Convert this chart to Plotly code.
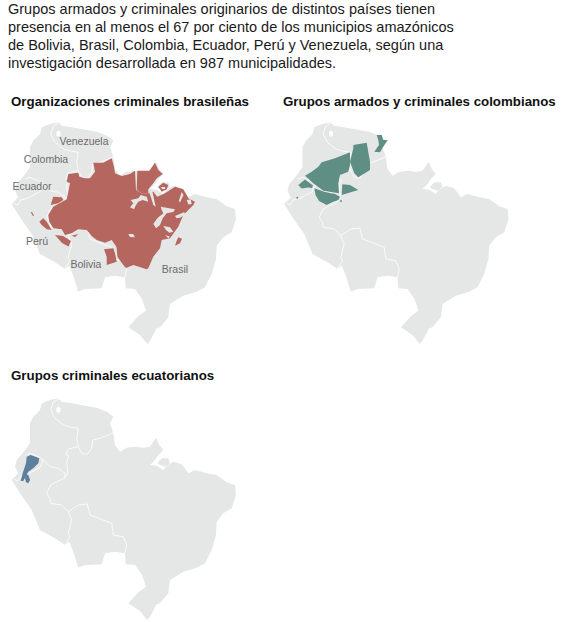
import plotly.graph_objects as go

W, H = 562, 622
GRAY, RED, GREEN, BLUE = "#E5E6E6", "#B5675F", "#5F8F84", "#5D7F9E"

intro = ["Grupos armados y criminales originarios de distintos países tienen",
         "presencia en al menos el 67 por ciento de los municipios amazónicos",
         "de Bolivia, Brasil, Colombia, Ecuador, Perú y Venezuela, según una",
         "investigación desarrollada en 987 municipalidades."]
titles = ["Organizaciones criminales brasileñas", "Grupos armados y criminales colombianos",
          "Grupos criminales ecuatorianos"]

coast = [(58.3,3.3),(61.7,6.7),(71.7,8.3),(83.3,10),(96.7,12.7),(106.7,16.7),(113.3,21.7),(110,28.3),(113.3,38.3),
 (115,50),(120,56.7),(126.7,52.7),(135,51.7),(143.3,52.7),(150,51.7),(156,42.7),(159.3,50),(163.3,55),(158.3,60),
 (155,65),(150,70),(156.7,70.7),(163.3,75),(166.7,70.7),(173.3,66.7),(181.7,69.3),(188.3,78.3),(195,75),(206.7,78.3),
 (216.7,80),(226.7,87.3),(235,90),(236,100),(231.7,113.3),(223.3,118.3),(216.7,126.7),(216,140),(211.7,155),(205,168.3),
 (196.7,172.7),(183.3,176.7),(170,185),(168.3,198.3),(160,208.3),(156.7,209.3),(150,221.7),(147.3,225),(140,216),
 (128.3,208.3),(138.3,197.3),(146,191.7),(141.7,179.3),(135,170),(125.7,169.3),(125,158.3),(115,156.7),(105,158.3),
 (101.7,169.3),(93.3,170),(85,170),(78.3,172.7),(73.3,156.7),(69.3,146.7),(65,150),(55,143.3),(40,135),(31.7,115),
 (20,98.3),(11.7,85),(16,80),(18.3,78.3),(15,71.7),(16.7,65),(22.7,58.3),(30,48.3),(30,28.3),(33.3,21.7),(40,15),
 (41.7,8.3),(50,5),(58.3,3.3)]
marajo = [(157.3,68.3),(161.7,63.3),(168.3,63.3),(170,68.3),(165,71.7),(160,70)]
lake = [(56.5,13),(58.3,11.5),(60.5,13),(60.5,16.5),(58.3,18),(56.5,16.5)]

border_col_ven = [(59.3,3.3),(53.3,7.3),(50.7,15),(55,23.3),(63.3,30),(71.7,32.3),(78.3,33.3),(76.7,43.3),(78.3,51.7)]
border_ven_bra = [(78.3,51.7),(81.7,58.3),(87.3,59.3),(91.7,53.3),(92.7,45),(100,43.3),(113,38)]
border_col_bra = [(78.3,51.7),(68.3,54),(65.7,59.3),(69,60.7),(66.7,66.7),(67.7,78.3),(65,82.7)]
border_col_ecu = [(25,60),(30,58.3),(38.3,61.7),(43.3,65),(50,71.7),(58.3,73.3),(65,78.3),(65,82.7)]
border_ecu_per = [(43.3,65),(39.8,72.7),(27.5,79.3),(20.8,81),(17.5,86),(14.2,84.3)]
border_per_bra = [(65,82.7),(55,87.3),(50.7,90),(46.7,98.3),(50,103.3),(50.7,108.3),(61.7,110),(68.3,116.7)]
border_per_bol = [(68.3,116.7),(71.7,125),(68.3,138.3),(70,142),(65,150)]
border_bol_bra = [(68.3,116.7),(78.3,110),(87.3,109),(90,120),(111.7,128.3),(113.3,140),(123.3,141.7),(126.7,150),(125,158.3)]
borders = [border_col_ven, border_ven_bra, border_col_bra, border_col_ecu, border_ecu_per,
           border_per_bra, border_per_bol, border_bol_bra]

br_main = [(68.3,55),(78.3,53.7),(79.3,57.7),(85,59.3),(90,59.3),(95,52.7),(93.3,43.7),(103.3,43.7),(111.7,39.3),(114,47.7),
 (115,54.3),(121.7,57),(130,55),(135,51.7),(136,71),(141.7,74.3),(148.3,74.3),(153.3,72.7),(157.3,77.7),(165,74.3),(175,67.7),
 (183.3,70.3),(186.7,76),(188.3,79.3),(195,82.7),(193.3,86),(188.3,91),(183.3,96),(178.3,107.7),(170,119.3),(161.7,121),
 (160,129.3),(153.3,137.7),(148.3,149.3),(146.7,150.3),(133.3,146),(126,149),(123.3,146),(117.5,138),(116.5,128),(111.7,121),
 (105,123.7),(96.7,121),(91.7,117),(86.7,111),(78.3,110.3),(71.7,114.3),(65,116),(61.7,110.3),(53.3,109.3),(49.3,102.7),
 (48.3,96),(53.3,87.7),(60,84.3),(66.7,80.3),(68.3,72.7),(70,64.3),(66.7,62.7),(68.3,55)]
br_amapa = [(137.3,51.7),(149.3,51.7),(155,43.7),(158.3,51),(162.7,55),(156.7,59.3),(153.3,64.3),(148.3,70.3),(148.3,74.3),
 (141.7,74.3),(136.7,71),(137.3,51.7)]
br_marajo = [(158.3,67.7),(163.3,63.7),(168.3,66),(166.7,70.3),(161.7,72.7),(158.3,67.7)]
br_loreto = [(50.7,86),(53.3,77.7),(61.7,78.3),(63.3,81),(58.3,84.3),(50.7,86)]
br_san_martin = [(39.3,102.7),(43.3,99.3),(46.7,102.7),(51.7,111),(46.7,110.3),(41.7,106),(39.3,102.7)]
br_tiny = [(30.7,93.3),(32,93),(34,96.5),(33,97),(30.7,93.3)]
br_ucayali = [(55,116),(63,117),(71,122),(68.5,127.5),(62,124),(55,116)]
br_madre = [(71.7,116.7),(78.3,115),(75,118),(71.7,116.7)]
br_pando = [(104,130.3),(113.3,129.3),(115,134.3),(116.7,142.7),(106.7,146),(106.7,137.7),(104,130.3)]
br_maranhao = [(178.3,118.3),(182,119.7),(180,124.3),(175,126.7),(176.7,121.7),(178.3,118.3)]
red_shapes = [br_main, br_amapa, br_marajo, br_loreto, br_san_martin, br_tiny, br_ucayali, br_madre, br_pando, br_maranhao]

gap_a = [(130.7,81),(138.3,79.3),(140.7,76),(146.7,77.7),(148.3,82.7),(142.7,81),(138.3,82.7),(136,86),(134,90.3),(130,88.3),(133.3,84.3)]
gap_b = [(148.3,71),(152.5,73),(155.7,87.7),(153.3,86),(151.2,79)]
gap_c = [(160.7,87.7),(175,90.3),(173.3,93),(166.7,94.3),(162.7,99.3),(160,106),(156,109.3),(153.3,105),(157.3,99.3),(163.3,94.3),(161.7,91)]
gap_d = [(163.3,107),(170,108.3),(173.3,112.7),(169.3,113.7),(166,111)]
gap_e = [(175,97),(184,93.3),(186,95.3),(180,98.7),(176.7,99.3)]
gap_f = [(181.7,73),(178.8,82),(180,83.5),(183.5,76)]
gap_g = [(186.7,81),(190.7,80.3),(191.7,85),(188.3,85.5)]
gap_h = [(165,116),(170,117.7),(168.3,119.3)]
gap_i = [(128.3,115),(133,115),(135,118.3),(130,118)]
gap_j = [(161,68),(165,68),(165,70),(162,70)]
gaps = [gap_a, gap_b, gap_c, gap_d, gap_e, gap_f, gap_g, gap_h, gap_i, gap_j]

co_main = [(45.8,47.7),(49.2,43.3),(62.5,39.3),(77.5,33.3),(77.5,46),(75.8,52.7),(67.5,56),(65.8,64.3),(66.5,74.3),(62.5,73.7),
 (50.8,71.7),(40.8,64.3),(33.2,57.5),(32.5,56.7),(39.2,52.7),(45.8,47.7)]
co_ecuador = [(25.8,66),(32.5,60.5),(40.5,66.5),(39.5,69),(35.8,68.5),(29.2,69.5),(25.8,66)]
co_peru = [(41.8,69.3),(52.5,72.9),(62.5,75),(67.5,77.7),(66,81),(60,83),(54.2,86),(46.5,82),(43,76),(41.8,69.3)]
co_brasil = [(69.8,65.3),(77.5,66),(85.8,71),(75.8,74.3),(69.2,76),(69.8,65.3)]
co_dot_a = [(67.3,82),(68.5,80.8),(69.7,82),(68.5,83.2),(67.3,82)]
co_dot_b = [(23.6,78.7),(24.8,77.5),(26,78.7),(24.8,79.9),(23.6,78.7)]
co_venezuela = [(80.8,26),(94.2,23.7),(97.5,42.7),(97.5,51),(85.8,58.3),(81.8,54.3),(77.5,42.7),(80.8,29.3),(80.8,26)]
co_guyana = [(104.2,16),(109.2,16),(110.8,21),(115.2,21),(110.8,27.7),(107.5,33.3),(101.8,32.7),(106.5,26),(105.8,21),(104.2,16)]
green_shapes = [co_main, co_ecuador, co_peru, co_brasil, co_dot_a, co_dot_b, co_venezuela, co_guyana]

ec_north = [(26.7,61.7),(30.7,60),(39.3,63.3),(38.3,68.3),(33.3,73.3),(28.3,76.7),(23.3,86),(20.7,86),(22.7,78.3),(26,68.3),(26.7,61.7)]
ec_south = [(26,79.3),(28.3,80),(30,85),(28.3,88.3),(26,87.3),(25,83.3),(26,79.3)]
blue_shapes = [ec_north, ec_south]

label_names = ["Venezuela", "Colombia", "Ecuador", "Perú", "Bolivia", "Brasil"]
label_x = [84, 46, 32, 37, 86, 175]
label_y = [23, 41, 68, 123, 146, 151]


def poly(shape, color, xa, ya):
    return go.Scatter(x=[p[0] for p in shape], y=[p[1] for p in shape], mode="lines", fill="toself",
                      fillcolor=color, line=dict(width=0, color=color), hoverinfo="skip", xaxis=xa, yaxis=ya)


fig = go.Figure()
panels = [("x", "y", 0, 119), ("x2", "y2", 272.5, 119), ("x3", "y3", 0, 395)]
accents = [(RED, red_shapes), (GREEN, green_shapes), (BLUE, blue_shapes)]
layout_axes = {}
for i, ((xa, ya, ox, oy), (col, shapes)) in enumerate(zip(panels, accents)):
    s = "" if i == 0 else str(i + 1)
    layout_axes[f"xaxis{s}"] = dict(domain=[ox / W, (ox + 240) / W], range=[0, 240], visible=False, fixedrange=True)
    layout_axes[f"yaxis{s}"] = dict(domain=[1 - (oy + 227) / H, 1 - oy / H], range=[227, 0], visible=False, fixedrange=True)
    for shp in (coast, marajo):
        fig.add_trace(poly(shp, GRAY, xa, ya))
    fig.add_trace(poly(lake, "white", xa, ya))
    for b in borders:
        fig.add_trace(go.Scatter(x=[p[0] for p in b], y=[p[1] for p in b], mode="lines",
                                 line=dict(color="white", width=0.8), hoverinfo="skip", xaxis=xa, yaxis=ya))
    for shp in shapes:
        fig.add_trace(poly(shp, col, xa, ya))
    if i == 0:
        for g in gaps:
            fig.add_trace(poly(g, GRAY, xa, ya))
        fig.add_trace(go.Scatter(x=label_x, y=label_y, text=label_names, mode="text", hoverinfo="skip",
                                 textfont=dict(family="Liberation Sans", size=10.5, color="#6b6b6b"),
                                 xaxis=xa, yaxis=ya))

ann = []
for n, line in enumerate(intro):
    ann.append(dict(text=line, x=6 / W, y=1 - (9 + 18 * n) / H, xref="paper", yref="paper", xanchor="left", yanchor="middle",
                    showarrow=False, font=dict(family="Liberation Sans", size=14.5, color="#1a1a1a")))
for t, tx, ty in zip(titles, [9, 281, 9], [101.5, 101.5, 375.5]):
    ann.append(dict(text=f"<b>{t}</b>", x=tx / W, y=1 - ty / H, xref="paper", yref="paper", xanchor="left", yanchor="middle",
                    showarrow=False, font=dict(family="Liberation Sans", size=13.3, color="#111111")))

fig.update_layout(width=W, height=H, margin=dict(l=0, r=0, t=0, b=0), showlegend=False,
                  paper_bgcolor="white", plot_bgcolor="white", annotations=ann, **layout_axes)
fig.write_html("out.html", config={"displayModeBar": False},
               post_script="document.body.style.margin='0';document.body.style.overflow='hidden';")
